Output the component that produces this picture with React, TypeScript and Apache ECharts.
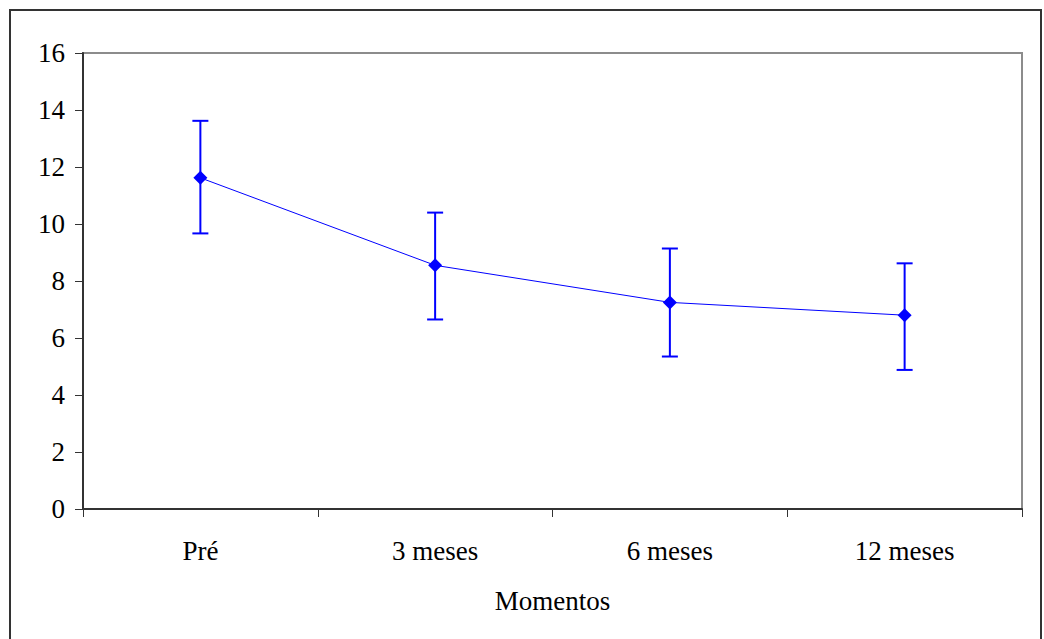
import React, { useEffect, useRef } from "react";
import * as echarts from "echarts";

const categories = ["Pré", "3 meses", "6 meses", "12 meses"];
const means = [11.62, 8.55, 7.25, 6.8];
const lower = [9.67, 6.65, 5.35, 4.88];
const upper = [13.62, 10.4, 9.14, 8.62];
const yTicks = [0, 2, 4, 6, 8, 10, 12, 14, 16];

const FONT = "'Liberation Serif', 'Times New Roman', serif";

export default function App() {
  const ref = useRef<HTMLDivElement>(null);
  useEffect(() => {
    const chart = echarts.init(ref.current!, undefined, { renderer: "svg" });
    const errData = categories.map((_, i) => [i, lower[i], upper[i]]);
    chart.setOption({
      animation: false,
      backgroundColor: "#ffffff",
      graphic: [
        {
          type: "rect",
          shape: { x: 10, y: 10, width: 1031, height: 640 },
          style: { fill: "none", stroke: "#333333", lineWidth: 2 },
          silent: true,
        },
      ],
      grid: { left: 83, top: 53, right: 22, bottom: 130, show: true, borderColor: "#8c8c8c", borderWidth: 2, backgroundColor: "#ffffff" },
      xAxis: {
        type: "category",
        data: categories,
        boundaryGap: true,
        name: "Momentos",
        nameLocation: "middle",
        nameGap: 78,
        nameTextStyle: { fontFamily: FONT, fontSize: 27, color: "#000" },
        axisLine: { lineStyle: { color: "#333", width: 2 } },
        axisTick: { show: true, alignWithLabel: false, length: 8, lineStyle: { color: "#333", width: 1 } },
        axisLabel: { fontFamily: FONT, fontSize: 27, color: "#000", margin: 28 },
        splitLine: { show: false },
      },
      yAxis: {
        type: "value",
        min: yTicks[0],
        max: yTicks[yTicks.length - 1],
        interval: 2,
        axisLine: { show: true, lineStyle: { color: "#333", width: 2 } },
        axisTick: { show: true, length: 8, lineStyle: { color: "#333", width: 1 } },
        axisLabel: { fontFamily: FONT, fontSize: 27, color: "#000", margin: 18 },
        splitLine: { show: false },
      },
      series: [
        {
          type: "custom",
          data: errData,
          z: 1,
          renderItem: (params: any, api: any) => {
            const x = api.value(0);
            const lo = api.coord([x, api.value(1)]);
            const hi = api.coord([x, api.value(2)]);
            const cap = 8;
            const style = { stroke: "#0000ff", lineWidth: 2 };
            return {
              type: "group",
              children: [
                { type: "line", shape: { x1: lo[0], y1: lo[1], x2: hi[0], y2: hi[1] }, style },
                { type: "line", shape: { x1: hi[0] - cap, y1: hi[1], x2: hi[0] + cap, y2: hi[1] }, style },
                { type: "line", shape: { x1: lo[0] - cap, y1: lo[1], x2: lo[0] + cap, y2: lo[1] }, style },
              ],
            };
          },
        },
        {
          type: "line",
          data: means,
          z: 3,
          symbol: "diamond",
          symbolSize: 14,
          itemStyle: { color: "#0000ff" },
          lineStyle: { color: "#0000ff", width: 1 },
        },
      ],
    });
    return () => chart.dispose();
  }, []);
  return <div ref={ref} style={{ position: "absolute", left: 0, top: 0, width: 1044, height: 639 }} />;
}
